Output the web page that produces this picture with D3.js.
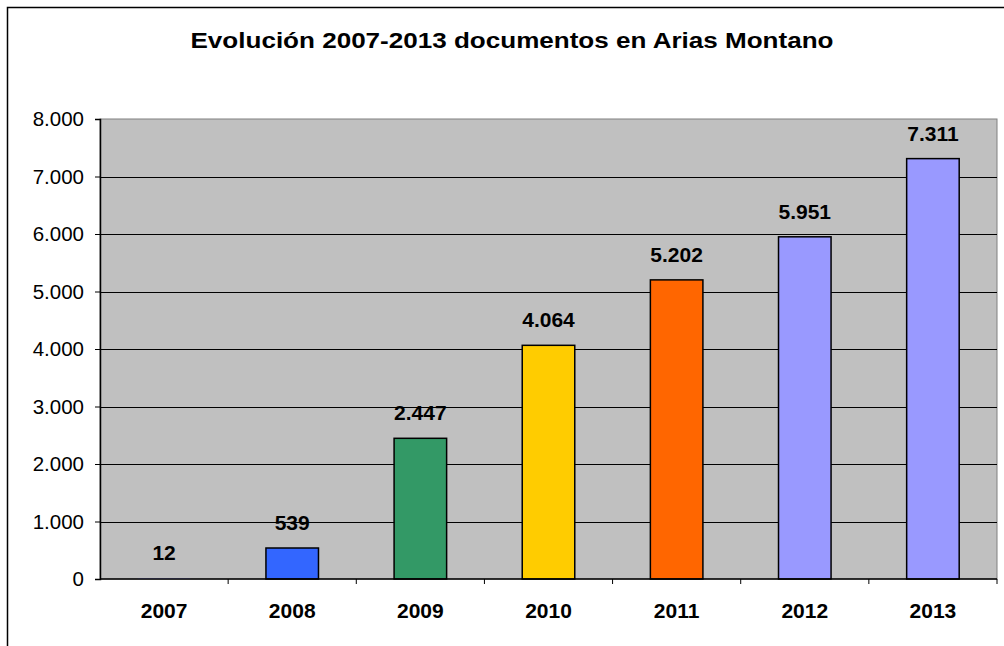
<!DOCTYPE html>
<html>
<head>
<meta charset="utf-8">
<script src="https://cdn.jsdelivr.net/npm/d3@7"></script>
<style>
  body { margin: 0; background: #fff; }
  text { font-family: Arial, "Liberation Sans", sans-serif; }
</style>
</head>
<body>
<div id="chart"></div>
<script>
// data
var years = ["2007", "2008", "2009", "2010", "2011", "2012", "2013"];
var docs = [12, 539, 2447, 4064, 5202, 5951, 7311];
var barColors = ["#9999FF", "#3366FF", "#339966", "#FFCC00", "#FF6600", "#9999FF", "#9999FF"];
var yTicks = [0, 1000, 2000, 3000, 4000, 5000, 6000, 7000, 8000];
var title = "Evolución 2007-2013 documentos en Arias Montano";

var W = 1004, H = 646;
var plot = { left: 100, top: 119, right: 997, bottom: 579 };

var svg = d3.select("#chart").append("svg")
  .attr("width", W)
  .attr("height", H);

// outer chart border (runs off the right and bottom edges)
svg.append("rect")
  .attr("x", 7.5).attr("y", 7.5)
  .attr("width", 1020).attr("height", 660)
  .attr("fill", "#fff")
  .attr("stroke", "#000")
  .attr("stroke-width", 1.5);

// scales
var x = d3.scaleBand()
  .domain(years)
  .range([plot.left, plot.right])
  .padding(0);

var y = d3.scaleLinear()
  .domain([0, 8000])
  .range([plot.bottom, plot.top]);

var barW = x.bandwidth() * 0.41;
var fmt = function(v) { return d3.format(",")(v).replace(/,/g, "."); };

// plot area background
svg.append("rect")
  .attr("x", plot.left).attr("y", plot.top)
  .attr("width", plot.right - plot.left)
  .attr("height", plot.bottom - plot.top)
  .attr("fill", "#C0C0C0")
  .attr("stroke", "#808080")
  .attr("stroke-width", 1);

// gridlines
svg.append("g")
  .selectAll("line")
  .data(yTicks.filter(function(d) { return d > 0 && d < 8000; }))
  .enter().append("line")
  .attr("x1", plot.left).attr("x2", plot.right)
  .attr("y1", function(d) { return Math.round(y(d)) + 0.5; })
  .attr("y2", function(d) { return Math.round(y(d)) + 0.5; })
  .attr("stroke", "#000")
  .attr("stroke-width", 1);

// bars
svg.append("g")
  .selectAll("rect")
  .data(docs)
  .enter().append("rect")
  .attr("x", function(d, i) { return x(years[i]) + (x.bandwidth() - barW) / 2; })
  .attr("y", function(d) { return y(d); })
  .attr("width", barW)
  .attr("height", function(d) { return y(0) - y(d); })
  .attr("fill", function(d, i) { return barColors[i]; })
  .attr("stroke", "#000")
  .attr("stroke-width", function(d) { return (y(0) - y(d)) > 2 ? 1.5 : 0; });

// data labels
svg.append("g")
  .selectAll("text")
  .data(docs)
  .enter().append("text")
  .attr("x", function(d, i) { return x(years[i]) + x.bandwidth() / 2; })
  .attr("y", function(d) { return y(d) - 18; })
  .attr("text-anchor", "middle")
  .style("font-size", "21px")
  .style("font-weight", "bold")
  .attr("fill", "#000")
  .text(function(d) { return fmt(d); });

// y axis
var yAxis = d3.axisLeft(y)
  .tickValues(yTicks)
  .tickSize(5)
  .tickPadding(11)
  .tickFormat(fmt);

var gy = svg.append("g")
  .attr("transform", "translate(" + plot.left + ",0)")
  .call(yAxis);
gy.select(".domain").attr("stroke", "#000").attr("stroke-width", 1.5);
gy.selectAll(".tick line").attr("stroke", "#000");
gy.selectAll(".tick text")
  .style("font-size", "20.5px")
  .style("font-family", "Arial, 'Liberation Sans', sans-serif")
  .attr("fill", "#000");

// x axis: ticks sit between categories
var gx = svg.append("g")
  .attr("transform", "translate(0," + plot.bottom + ")");
gx.append("line")
  .attr("x1", plot.left).attr("x2", plot.right)
  .attr("stroke", "#000").attr("stroke-width", 1.5);
gx.selectAll(".sep")
  .data(years)
  .enter().append("line")
  .attr("class", "sep")
  .attr("x1", function(d) { return x(d) + x.bandwidth(); })
  .attr("x2", function(d) { return x(d) + x.bandwidth(); })
  .attr("y1", 0).attr("y2", 5)
  .attr("stroke", "#000");
gx.selectAll(".lbl")
  .data(years)
  .enter().append("text")
  .attr("class", "lbl")
  .attr("x", function(d) { return x(d) + x.bandwidth() / 2; })
  .attr("y", 39)
  .attr("text-anchor", "middle")
  .style("font-size", "21px")
  .style("font-weight", "bold")
  .attr("fill", "#000")
  .text(function(d) { return d; });

// title
svg.append("text")
  .attr("x", 512)
  .attr("y", 48)
  .attr("text-anchor", "middle")
  .attr("textLength", 643)
  .attr("lengthAdjust", "spacingAndGlyphs")
  .style("font-size", "22px")
  .style("font-weight", "bold")
  .attr("fill", "#000")
  .text(title);
</script>
</body>
</html>
